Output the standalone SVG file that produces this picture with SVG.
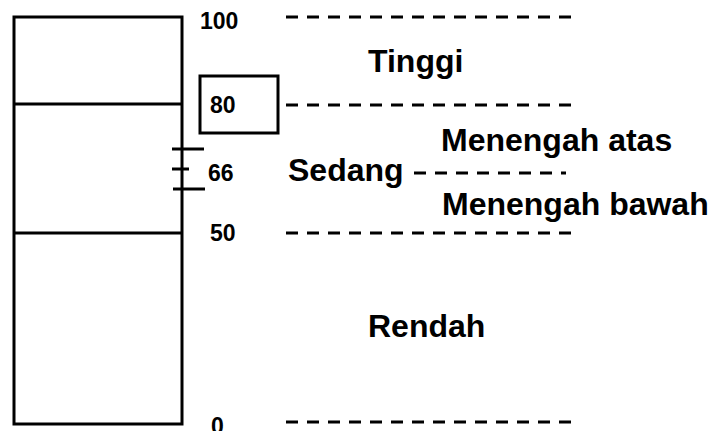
<svg xmlns="http://www.w3.org/2000/svg" width="712" height="431" viewBox="0 0 712 431">
  <style>
    .frame { fill: none; stroke: #000; stroke-width: 3; }
    .tick { stroke: #000; stroke-width: 3; }
    .dash { stroke: #000; stroke-width: 3; stroke-dasharray: 12 9; }
    .num { font-family: "Liberation Sans", Arial, sans-serif; font-weight: bold; font-size: 23px; fill: #000; }
    .lbl { font-family: "Liberation Sans", Arial, sans-serif; font-weight: bold; font-size: 32px; fill: #000; }
  </style>

  <!-- score column -->
  <g id="scale">
    <rect class="frame" x="14" y="17" width="168" height="407"/>
    <line class="frame" x1="14" y1="104" x2="182" y2="104"/>
    <line class="frame" x1="14" y1="233" x2="182" y2="233"/>
    <line class="tick" x1="172" y1="149" x2="204" y2="149"/>
    <line class="tick" x1="172" y1="169" x2="189" y2="169"/>
    <line class="tick" x1="173" y1="189" x2="205" y2="189"/>
  </g>

  <!-- scale values -->
  <g id="values">
    <text class="num" x="200" y="29">100</text>
    <g id="v80">
      <rect class="frame" x="200" y="76" width="78" height="57"/>
      <text class="num" x="210" y="113">80</text>
    </g>
    <text class="num" x="208" y="181">66</text>
    <text class="num" x="210" y="241">50</text>
    <text class="num" x="211" y="434">0</text>
  </g>

  <!-- category boundaries -->
  <g id="connectors">
    <line class="dash" x1="286" y1="17" x2="572" y2="17"/>
    <line class="dash" x1="286" y1="105" x2="572" y2="105"/>
    <line class="dash" x1="414" y1="173" x2="566" y2="173"/>
    <line class="dash" x1="286" y1="233" x2="572" y2="233"/>
    <line class="dash" x1="286" y1="422" x2="572" y2="422"/>
  </g>

  <!-- category labels -->
  <g id="tinggi"><text class="lbl" x="368" y="72">Tinggi</text></g>
  <g id="menengah-atas"><text class="lbl" x="441" y="151">Menengah atas</text></g>
  <g id="sedang"><text class="lbl" x="288" y="181">Sedang</text></g>
  <g id="menengah-bawah"><text class="lbl" x="442" y="215">Menengah bawah</text></g>
  <g id="rendah"><text class="lbl" x="368" y="337">Rendah</text></g>
</svg>
